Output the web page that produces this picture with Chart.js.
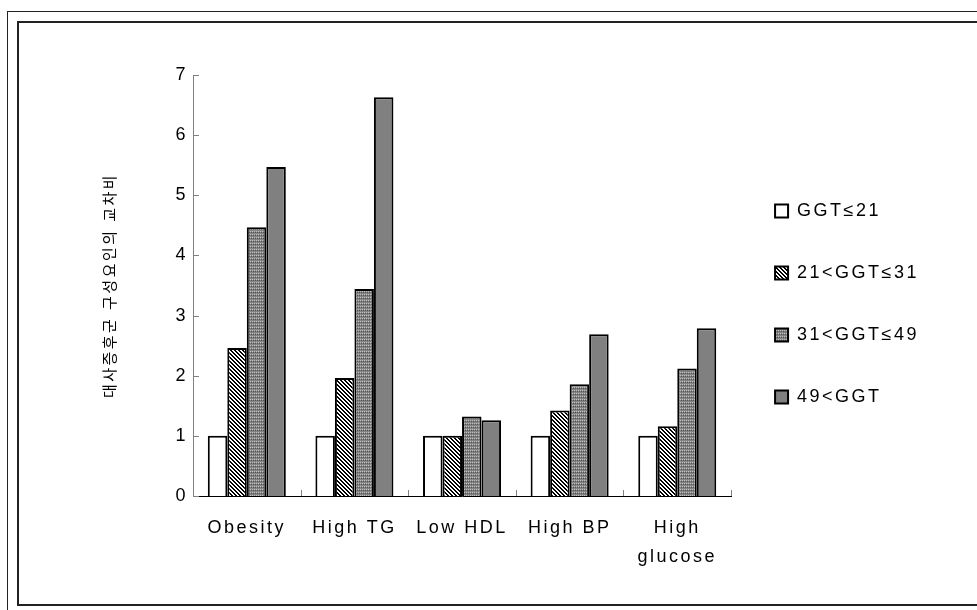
<!DOCTYPE html>
<html>
<head>
<meta charset="utf-8">
<script src="https://cdn.jsdelivr.net/npm/chart.js@4"></script>
<style>
    body { margin: 0; background: #fff; }
    #wrap { position: relative; width: 977px; height: 610px; overflow: hidden; }
    .frame { position: absolute; box-sizing: border-box; }
    #outer { left: 7px; top: 11px; width: 1000px; height: 700px; border: 1px solid #222; }
    #inner { left: 17px; top: 21px; width: 1000px; height: 585px; border: 2px solid #222; }
    canvas { position: absolute; left: 0; top: 0; }
</style>
</head>
<body>
<div id="wrap">
    <div class="frame" id="outer"></div>
    <div class="frame" id="inner"></div>
    <canvas id="chart" width="977" height="610"></canvas>
</div>
<script>
// Data
const categories = ['Obesity', 'High TG', 'Low HDL', 'High BP', ['High', 'glucose']];
const seriesNames = ['GGT\u226421', '21<GGT\u226431', '31<GGT\u226449', '49<GGT'];
const ggt1 = [1.0, 1.0, 1.0, 1.0, 1.0];
const ggt2 = [2.46, 1.96, 1.0, 1.42, 1.16];
const ggt3 = [4.47, 3.44, 1.32, 1.86, 2.12];
const ggt4 = [5.47, 6.63, 1.26, 2.69, 2.79];
const yTicks = [0, 1, 2, 3, 4, 5, 6, 7];
const yTitle = '대사증후군 구성요인의 교차비';

const FONT = '"Liberation Sans", Arial, "Noto Sans CJK KR", sans-serif';
const SPACING = '2.5px';

// Small pixel patterns for the bar fills
function makePattern(w, h, paint) {
    const c = document.createElement('canvas');
    c.width = w;
    c.height = h;
    const g = c.getContext('2d');
    for (let y = 0; y < h; y++) {
        for (let x = 0; x < w; x++) {
            g.fillStyle = paint(x, y);
            g.fillRect(x, y, 1, 1);
        }
    }
    return g.createPattern(c, 'repeat');
}

const hatch = makePattern(4, 4, (x, y) => (((x - y) % 4 + 4) % 4) < 2 ? '#000' : '#fff');
const dotted = makePattern(4, 3, (x, y) => {
    if (y === 0 && x % 2 === 0) return '#c0c0c0';
    if (y === 1 && x % 2 === 1) return '#555';
    return '#838383';
});
const fills = ['#ffffff', hatch, dotted, '#808080'];

// Canvas letter spacing, like the wide text in the original
const spacingPlugin = {
    id: 'spacing',
    beforeLayout(chart) { chart.ctx.letterSpacing = SPACING; },
    beforeDraw(chart) { chart.ctx.letterSpacing = SPACING; }
};

// Inward tick marks on both axes
const innerTicks = {
    id: 'innerTicks',
    afterDatasetsDraw(chart) {
        const { ctx, chartArea, scales: { x, y } } = chart;
        ctx.save();
        ctx.strokeStyle = '#808080';
        ctx.lineWidth = 1;
        ctx.beginPath();
        yTicks.forEach(v => {
            const py = Math.round(y.getPixelForValue(v)) + 0.5;
            ctx.moveTo(chartArea.left, py);
            ctx.lineTo(chartArea.left + 6, py);
        });
        const step = (x.right - x.left) / categories.length;
        for (let i = 1; i <= categories.length; i++) {
            const px = Math.round(x.left + i * step) + 0.5;
            ctx.moveTo(px, chartArea.bottom);
            ctx.lineTo(px, chartArea.bottom - 6);
        }
        ctx.stroke();
        ctx.restore();
    }
};

new Chart(document.getElementById('chart'), {
    type: 'bar',
    data: {
        labels: categories,
        datasets: [ggt1, ggt2, ggt3, ggt4].map((values, i) => ({
            label: seriesNames[i],
            data: values,
            backgroundColor: fills[i],
            borderColor: '#000',
            borderWidth: 2,
            borderSkipped: 'bottom',
            categoryPercentage: 0.725,
            barPercentage: 1.0
        }))
    },
    options: {
        responsive: false,
        animation: false,
        devicePixelRatio: 1,
        layout: { padding: { left: 100, top: 75, right: 48, bottom: 0 } },
        plugins: {
            tooltip: { enabled: false },
            legend: {
                position: 'right',
                fullSize: false,
                // empty title only pushes the items down to where they sit in the original
                title: { display: true, text: '', padding: { top: 36, bottom: 0 }, font: { size: 1, lineHeight: 1 } },
                labels: {
                    boxWidth: 13,
                    boxHeight: 13,
                    padding: 44,
                    color: '#000',
                    font: { family: FONT, size: 18 }
                }
            }
        },
        scales: {
            x: {
                grid: { display: false, drawTicks: false },
                border: { display: true, color: '#000', width: 1 },
                ticks: {
                    color: '#000',
                    padding: 18,
                    maxRotation: 0,
                    autoSkip: false,
                    font: { family: FONT, size: 18, lineHeight: 1.6 }
                },
                afterFit: s => { s.height = 114; }
            },
            y: {
                min: 0,
                max: 7,
                grid: { display: false, drawTicks: false },
                border: { display: true, color: '#808080', width: 1 },
                ticks: {
                    stepSize: 1,
                    color: '#000',
                    padding: 5,
                    font: { family: FONT, size: 18 }
                },
                title: {
                    display: true,
                    text: yTitle,
                    color: '#000',
                    padding: { top: 2, bottom: 0 },
                    font: { family: FONT, size: 15 }
                },
                afterFit: s => { s.width = 93; }
            }
        }
    },
    plugins: [spacingPlugin, innerTicks]
});
</script>
</body>
</html>
